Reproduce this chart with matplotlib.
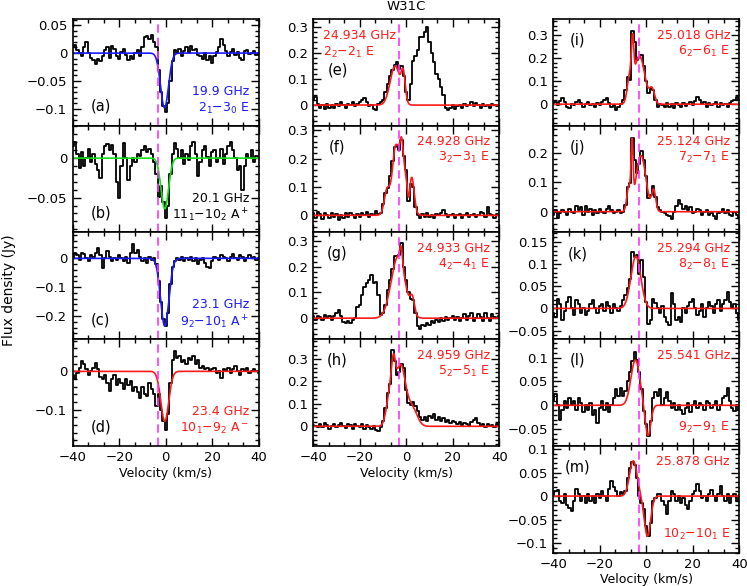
import numpy as np
import matplotlib.pyplot as plt
from matplotlib.ticker import MultipleLocator, FuncFormatter

# channel centres (km/s)
velocity = np.arange(-40, 41)
v_lsr = -3.2  # dashed magenta line

# spectra, one value per channel from -40 to +40 km/s (Jy)
flux_a = [0.010, 0.015, 0.005, 0.000, -0.005, 0.010, 0.020, 0.000, -0.008, -0.012,
          -0.020, -0.010, -0.015, -0.005, 0.005, 0.010, -0.008, 0.012, 0.008, -0.005,
          -0.010, 0.002, 0.008, -0.003, -0.012, -0.005, -0.010, 0.000, 0.005, -0.005,
          0.010, 0.028, 0.030, 0.025, 0.032, 0.020, 0.010, -0.030, -0.070, -0.095,
          -0.105, -0.090, -0.050, -0.015, 0.005, 0.000, 0.008, -0.005, 0.003, 0.010,
          0.000, 0.012, 0.005, 0.008, -0.003, -0.005, -0.010, 0.000, -0.012, -0.005,
          -0.018, -0.005, 0.002, 0.010, 0.025, 0.015, 0.003, -0.005, 0.002, 0.008,
          -0.004, 0.002, -0.008, -0.012, 0.003, 0.005, -0.002, 0.000, 0.004, -0.003,
          0.000]
flux_b = [0.015, 0.020, 0.005, -0.012, 0.008, -0.010, 0.000, 0.012, -0.005, 0.005,
          -0.008, -0.015, -0.025, 0.005, 0.015, 0.018, 0.010, 0.017, 0.005, -0.030,
          -0.051, -0.010, 0.019, 0.000, -0.028, -0.010, 0.000, -0.005, 0.005, 0.003,
          0.010, 0.015, 0.008, 0.012, 0.005, -0.005, -0.020, -0.049, -0.035, -0.055,
          -0.076, -0.060, -0.020, 0.005, 0.019, 0.012, 0.000, 0.010, -0.008, 0.005,
          -0.003, 0.015, 0.021, 0.005, -0.023, -0.005, 0.010, 0.015, 0.002, -0.010,
          0.008, 0.010, -0.005, 0.000, 0.012, -0.008, 0.005, 0.015, 0.020, 0.010,
          0.000, -0.015, -0.010, -0.040, -0.010, 0.005, 0.000, 0.010, -0.005, 0.003,
          0.000]
flux_c = [0.000, 0.020, 0.010, -0.005, 0.020, 0.015, 0.000, -0.010, 0.010, 0.005,
          0.020, 0.035, 0.010, -0.035, 0.000, 0.025, 0.005, -0.010, 0.000, -0.005,
          0.010, 0.000, -0.010, 0.005, -0.015, 0.020, 0.050, 0.020, 0.030, 0.005,
          -0.010, 0.000, -0.015, 0.005, -0.005, 0.000, -0.020, -0.080, -0.150, -0.210,
          -0.235, -0.190, -0.090, -0.030, -0.010, 0.000, -0.005, 0.005, -0.010, 0.000,
          -0.005, 0.005, -0.010, 0.000, -0.020, -0.005, 0.000, -0.015, -0.030, -0.035,
          -0.010, 0.005, 0.000, -0.005, 0.010, 0.005, 0.000, -0.010, 0.005, 0.015,
          0.000, -0.005, 0.010, 0.005, -0.010, 0.000, 0.010, 0.000, 0.005, -0.005,
          0.000]
flux_d = [-0.010, -0.020, -0.005, 0.010, 0.026, 0.020, 0.005, -0.010, 0.000, 0.010,
          0.022, 0.005, -0.015, -0.020, -0.010, -0.030, -0.052, -0.020, -0.010, -0.035,
          -0.020, -0.030, -0.045, -0.020, -0.035, -0.025, -0.050, -0.040, -0.055, -0.070,
          -0.040, -0.060, -0.065, -0.030, -0.045, -0.060, -0.090, -0.060, -0.100, -0.130,
          -0.152, -0.110, -0.030, 0.030, 0.052, 0.035, 0.040, 0.025, 0.030, 0.020,
          0.035, 0.030, 0.040, 0.020, 0.030, 0.010, 0.015, 0.005, 0.010, 0.000,
          0.005, 0.010, -0.005, 0.000, -0.017, 0.005, 0.000, 0.010, -0.005, 0.005,
          0.015, 0.000, -0.010, 0.005, 0.000, 0.010, -0.005, 0.000, 0.005, 0.000,
          -0.005]
flux_e = [0.020, 0.030, 0.005, -0.010, 0.000, -0.015, 0.005, -0.010, 0.000, -0.012,
          0.005, -0.005, 0.010, 0.000, -0.010, 0.005, 0.000, 0.010, -0.005, 0.005,
          0.012, 0.020, 0.028, 0.010, -0.005, 0.000, -0.015, -0.020, 0.005, 0.010,
          0.020, 0.050, 0.080, 0.110, 0.135, 0.155, 0.167, 0.140, 0.148, 0.110,
          0.050, 0.020, 0.080, 0.170, 0.190, 0.210, 0.260, 0.260, 0.280, 0.300,
          0.240, 0.200, 0.165, 0.120, 0.100, 0.070, 0.040, -0.012, -0.020, -0.010,
          0.000, -0.015, -0.005, 0.000, -0.010, 0.005, -0.005, 0.000, 0.010, -0.005,
          0.008, 0.000, -0.010, 0.005, -0.005, 0.000, -0.010, 0.005, 0.000, -0.005,
          0.000]
flux_f = [0.010, -0.010, 0.012, 0.005, -0.012, 0.010, 0.000, -0.010, 0.008, -0.005,
          0.005, -0.015, 0.000, -0.010, 0.008, -0.005, 0.010, 0.000, -0.010, 0.005,
          -0.005, 0.010, 0.000, 0.012, -0.005, 0.005, 0.000, 0.015, 0.005, 0.010,
          0.040, 0.080, 0.095, 0.140, 0.190, 0.240, 0.245, 0.230, 0.265, 0.210,
          0.160, 0.050, 0.110, 0.100, 0.030, 0.000, -0.010, 0.005, -0.005, 0.010,
          -0.005, 0.000, -0.010, 0.005, 0.000, 0.010, 0.018, 0.005, -0.005, 0.000,
          0.005, -0.010, 0.000, 0.005, -0.008, 0.000, 0.010, -0.005, 0.000, 0.005,
          -0.005, 0.000, 0.012, 0.008, -0.005, 0.030, 0.005, 0.000, -0.010, 0.005,
          0.000]
flux_g = [0.010, -0.005, 0.010, 0.005, -0.005, 0.012, 0.000, 0.008, -0.005, 0.010,
          0.020, 0.030, 0.010, -0.015, -0.020, -0.010, -0.018, -0.005, 0.000, 0.045,
          0.050, 0.090, 0.120, 0.135, 0.150, 0.168, 0.135, 0.140, 0.090, 0.013,
          0.020, 0.050, 0.110, 0.150, 0.190, 0.240, 0.240, 0.245, 0.290, 0.200,
          0.150, 0.100, 0.075, 0.070, 0.020, -0.030, -0.040, -0.025, -0.030, -0.020,
          -0.025, -0.010, -0.020, -0.005, -0.015, 0.000, -0.010, 0.005, -0.008, 0.000,
          0.010, -0.005, 0.005, -0.010, 0.000, 0.015, -0.005, 0.010, 0.020, -0.010,
          0.000, 0.015, 0.005, -0.010, 0.020, 0.000, -0.010, 0.015, 0.005, 0.000,
          0.010]
flux_h = [0.005, 0.000, -0.005, 0.010, -0.005, 0.015, 0.005, -0.010, 0.000, 0.010,
          -0.005, 0.005, 0.015, 0.000, -0.008, 0.010, 0.005, -0.010, 0.012, 0.000,
          -0.005, 0.010, -0.010, 0.005, -0.005, -0.010, 0.000, -0.015, -0.020, -0.005,
          0.022, 0.080, 0.150, 0.190, 0.340, 0.290, 0.230, 0.240, 0.280, 0.260,
          0.164, 0.104, 0.097, 0.110, 0.090, 0.067, 0.040, 0.030, 0.040, 0.025,
          0.045, 0.035, 0.055, 0.030, 0.040, 0.025, 0.035, 0.020, 0.030, 0.015,
          0.025, 0.020, 0.010, 0.020, 0.005, 0.015, 0.010, 0.000, 0.020, 0.030,
          0.037, 0.015, 0.000, 0.010, -0.005, 0.010, 0.000, 0.005, -0.005, 0.010,
          0.000]
flux_i = [0.000, 0.010, -0.005, 0.015, 0.026, 0.010, -0.010, -0.015, 0.000, -0.005,
          0.010, 0.020, 0.005, -0.010, 0.000, 0.008, -0.005, 0.000, -0.010, 0.005,
          -0.005, 0.010, 0.020, 0.026, 0.005, -0.010, -0.005, -0.025, -0.010, 0.000,
          0.020, 0.060, 0.120, 0.106, 0.316, 0.270, 0.190, 0.200, 0.215, 0.164,
          0.100, 0.048, 0.070, 0.060, 0.020, -0.010, 0.000, -0.005, -0.012, 0.005,
          -0.010, 0.000, -0.015, 0.005, -0.005, -0.010, 0.005, -0.008, 0.000, 0.010,
          -0.005, 0.015, 0.033, 0.020, 0.000, 0.010, -0.010, 0.005, -0.005, 0.000,
          0.010, -0.012, 0.005, -0.005, 0.000, -0.010, 0.005, 0.015, 0.020, 0.033,
          0.020]
flux_j = [-0.010, 0.005, -0.020, -0.005, 0.005, 0.000, -0.010, 0.010, 0.000, -0.005,
          0.020, 0.005, 0.015, -0.010, 0.020, 0.000, 0.010, -0.010, 0.005, -0.005,
          0.010, 0.000, -0.005, 0.010, 0.020, 0.005, -0.005, 0.000, 0.005, -0.005,
          0.000, 0.023, 0.085, 0.097, 0.250, 0.176, 0.130, 0.160, 0.205, 0.176,
          0.120, 0.045, 0.057, 0.088, 0.050, 0.017, 0.005, 0.000, -0.005, -0.010,
          -0.015, -0.023, 0.000, 0.020, 0.040, 0.025, 0.010, 0.020, 0.005, 0.015,
          -0.005, 0.000, 0.010, 0.005, -0.010, 0.000, 0.005, -0.010, -0.005, -0.015,
          -0.023, -0.005, 0.000, 0.010, -0.005, 0.005, -0.010, -0.015, 0.000, -0.010,
          -0.020]
flux_k = [-0.010, -0.020, 0.022, 0.010, -0.026, -0.005, 0.015, 0.026, 0.000, -0.015,
          0.020, 0.010, -0.010, 0.000, -0.015, -0.005, 0.010, 0.019, 0.000, -0.010,
          0.005, 0.010, -0.005, 0.015, 0.005, -0.010, 0.010, 0.000, -0.005, 0.005,
          0.019, 0.030, 0.045, 0.067, 0.127, 0.116, 0.120, 0.078, 0.108, 0.070,
          0.015, -0.034, -0.026, 0.022, 0.012, 0.000, -0.010, 0.005, -0.020, -0.030,
          -0.037, 0.034, 0.010, -0.026, -0.020, -0.030, 0.000, -0.010, 0.005, 0.015,
          0.022, 0.000, -0.015, -0.005, 0.010, -0.020, 0.000, 0.015, 0.005, -0.010,
          0.010, 0.020, -0.005, 0.010, 0.020, 0.037, 0.015, 0.000, 0.010, -0.010,
          -0.026]
flux_l = [0.010, 0.023, 0.000, -0.030, -0.010, 0.010, -0.005, 0.015, 0.000, 0.010,
          -0.010, 0.016, 0.005, -0.015, 0.000, -0.010, 0.005, -0.020, -0.010, -0.037,
          -0.005, 0.010, -0.010, 0.005, -0.015, 0.000, 0.015, 0.034, 0.020, 0.037,
          0.020, 0.030, 0.050, 0.070, 0.094, 0.111, 0.095, 0.070, 0.034, -0.012,
          -0.040, -0.065, -0.033, 0.016, 0.027, 0.020, 0.034, 0.000, 0.015, 0.027,
          0.010, -0.005, 0.005, -0.010, 0.000, -0.010, -0.019, -0.005, 0.005, -0.015,
          0.000, 0.010, -0.005, 0.005, 0.000, -0.010, 0.010, 0.005, -0.005, 0.000,
          0.010, -0.010, 0.000, 0.015, 0.020, 0.037, 0.010, -0.005, -0.012, 0.000,
          -0.010]
flux_m = [0.000, 0.010, 0.014, -0.010, -0.015, 0.005, -0.020, -0.025, -0.032, -0.010,
          0.015, 0.005, -0.010, 0.000, -0.015, 0.005, -0.010, 0.000, -0.015, 0.005,
          -0.005, 0.010, 0.000, -0.010, 0.015, 0.032, 0.020, 0.010, 0.000, 0.008,
          0.005, 0.010, 0.039, 0.060, 0.072, 0.066, 0.039, 0.000, -0.014, -0.028,
          -0.064, -0.085, -0.057, -0.010, -0.004, 0.005, 0.005, -0.010, -0.020, -0.039,
          -0.010, 0.010, 0.005, -0.010, 0.000, -0.015, -0.005, -0.020, -0.028, -0.010,
          0.005, 0.010, 0.025, 0.010, -0.005, 0.000, -0.010, 0.005, 0.014, 0.000,
          -0.010, 0.005, 0.021, 0.000, -0.010, 0.005, -0.015, 0.000, 0.005, -0.010,
          0.000]

# gaussian fit components: (peak Jy, centre km/s, fwhm km/s)
fit_a = [(-0.098, -0.5, 4.0)]
fit_b = [(-0.064, -0.4, 3.8)]
fit_c = [(-0.235, -0.4, 4.2)]
fit_d = [(-0.130, -0.4, 4.0)]
fit_e = [(0.15, -4.8, 5.0), (0.10, -1.3, 2.0)]
fit_f = [(0.24, -3.0, 6.5), (0.05, -5.0, 2.0), (0.05, -2.0, 1.2),
         (-0.05, 1.0, 1.2), (0.10, 2.5, 2.3), (0.06, -8.5, 2.5)]
fit_g = [(0.24, -3.5, 7.0), (0.06, -2.2, 1.3), (0.06, 2.6, 2.2)]
fit_h = [(0.14, -5.5, 2.0), (0.27, -2.5, 5.0), (0.14, -7.0, 3.5), (0.08, 2.5, 5.0)]
fit_i = [(0.18, -5.9, 1.2), (0.21, -3.0, 5.5), (0.09, -7.3, 2.2), (0.06, 2.5, 2.5)]
fit_j = [(0.19, -6.1, 1.0), (0.19, -2.3, 5.0), (0.08, -7.5, 2.0), (0.07, 3.2, 2.0)]
fit_k = [(0.117, -4.5, 5.0)]
fit_l = [(0.095, -4.7, 4.5), (-0.065, 0.7, 2.8)]
fit_m = [(0.075, -5.6, 3.8), (-0.085, 0.5, 3.2)]

freqs = ['19.9 GHz', '20.1 GHz', '23.1 GHz', '23.4 GHz',
         '24.934 GHz', '24.928 GHz', '24.933 GHz', '24.959 GHz',
         '25.018 GHz', '25.124 GHz', '25.294 GHz', '25.541 GHz', '25.878 GHz']
transitions = ['$2_1$−$3_0$ E', '$11_1$−$10_2$ A$^+$', '$9_2$−$10_1$ A$^+$',
               '$10_1$−$9_2$ A$^-$',
               '$2_2$−$2_1$ E', '$3_2$−$3_1$ E', '$4_2$−$4_1$ E', '$5_2$−$5_1$ E',
               '$6_2$−$6_1$ E', '$7_2$−$7_1$ E', '$8_2$−$8_1$ E', '$9_2$−$9_1$ E',
               '$10_2$−$10_1$ E']

RED, BLUE, GREEN = '#ff1a1a', '#1a1aff', '#11e011'

# flux, fit, colour, column, row, ylim, major y step, text layout
panels = [
    (flux_a, fit_a, BLUE, 0, 0, (-0.130, 0.061), 0.05, 'low'),
    (flux_b, fit_b, GREEN, 0, 1, (-0.094, 0.041), 0.05, 'low'),
    (flux_c, fit_c, BLUE, 0, 2, (-0.280, 0.090), 0.1, 'low'),
    (flux_d, fit_d, RED, 0, 3, (-0.194, 0.084), 0.1, 'low'),
    (flux_e, fit_e, RED, 1, 0, (-0.079, 0.330), 0.1, 'left'),
    (flux_f, fit_f, RED, 1, 1, (-0.060, 0.316), 0.1, 'top'),
    (flux_g, fit_g, RED, 1, 2, (-0.081, 0.333), 0.1, 'top'),
    (flux_h, fit_h, RED, 1, 3, (-0.087, 0.389), 0.1, 'top'),
    (flux_i, fit_i, RED, 2, 0, (-0.093, 0.369), 0.1, 'top'),
    (flux_j, fit_j, RED, 2, 1, (-0.070, 0.291), 0.1, 'top'),
    (flux_k, fit_k, RED, 2, 2, (-0.069, 0.171), 0.05, 'top'),
    (flux_l, fit_l, RED, 2, 3, (-0.085, 0.139), 0.05, 'split'),
    (flux_m, fit_m, RED, 2, 4, (-0.120, 0.107), 0.05, 'split'),
]
text_colours = [BLUE, 'black', BLUE] + [RED] * 10
letters = 'abcdefghijklm'


def gauss_sum(v, comps):
    out = np.zeros_like(v)
    for amp, cen, fwhm in comps:
        out += amp * np.exp(-4 * np.log(2) * ((v - cen) / fwhm) ** 2)
    return out


def fmt(y, pos):
    y = round(y, 3) + 0.0
    return ('%g' % y).replace('-', '\u2212')


W, H = 747, 586
col_left = [72.7, 313.3, 553.3]
ax_w, ax_h, top = 186, 106.7, 19
bottom_rows = {0: 3, 1: 3, 2: 4}
fs_note, fs_letter = 9, 10.5

fig = plt.figure(figsize=(W / 100, H / 100), dpi=100)
v_fine = np.linspace(-40, 40, 801)

for n, (flux, fit, colour, col, row, ylim, ystep, layout) in enumerate(panels):
    ax = fig.add_axes([col_left[col] / W, 1 - (top + (row + 1) * ax_h) / H,
                       ax_w / W, ax_h / H])
    ax.step(velocity, flux, where='mid', color='black', lw=1.3)
    ax.plot(v_fine, gauss_sum(v_fine, fit), color=colour, lw=1.2)
    ax.axvline(v_lsr, color='#ff33ff', lw=1.2, dashes=(5, 3))
    ax.set_xlim(-40, 40)
    ax.set_ylim(*ylim)
    ax.xaxis.set_major_locator(MultipleLocator(20))
    ax.xaxis.set_minor_locator(MultipleLocator(20 / 3))
    ax.yaxis.set_major_locator(MultipleLocator(ystep))
    ax.yaxis.set_minor_locator(MultipleLocator(ystep / 5))
    ax.yaxis.set_major_formatter(FuncFormatter(fmt))
    ax.xaxis.set_major_formatter(FuncFormatter(fmt))
    ax.tick_params(which='both', direction='in', top=True, right=True,
                   width=1.0, labelsize=9.5, pad=4)
    ax.tick_params(which='major', length=6)
    ax.tick_params(which='minor', length=3)
    for s in ax.spines.values():
        s.set_linewidth(1.2)
    if row != bottom_rows[col]:
        ax.tick_params(labelbottom=False)

    tc = text_colours[n]
    letter = '(%s)' % letters[n]
    if layout == 'low':
        ax.text(0.15, 0.18, letter, transform=ax.transAxes, fontsize=fs_letter,
                ha='center', va='center')
        ax.text(0.95, 0.32, freqs[n], transform=ax.transAxes, fontsize=fs_note,
                ha='right', va='center', color=tc)
        ax.text(0.95, 0.16, transitions[n], transform=ax.transAxes,
                fontsize=fs_note, ha='right', va='center', color=tc)
    elif layout == 'left':
        ax.text(0.054, 0.85, freqs[n], transform=ax.transAxes, fontsize=fs_note,
                ha='left', va='center', color=tc)
        ax.text(0.054, 0.69, transitions[n], transform=ax.transAxes,
                fontsize=fs_note, ha='left', va='center', color=tc)
        ax.text(0.134, 0.52, letter, transform=ax.transAxes, fontsize=fs_letter,
                ha='center', va='center')
    else:
        ax.text(0.13, 0.80, letter, transform=ax.transAxes, fontsize=fs_letter,
                ha='center', va='center')
        ax.text(0.95, 0.85, freqs[n], transform=ax.transAxes, fontsize=fs_note,
                ha='right', va='center', color=tc)
        ty = 0.17 if layout == 'split' else 0.70
        ax.text(0.95, ty, transitions[n], transform=ax.transAxes,
                fontsize=fs_note, ha='right', va='center', color=tc)

# axis labels and title
for col, y_px in [(0, 474), (1, 474), (2, 579)]:
    fig.text((col_left[col] + ax_w / 2) / W, 1 - y_px / H, 'Velocity (km/s)',
             ha='center', va='center', fontsize=9)
fig.text(9 / W, 1 - 290 / H, 'Flux density (Jy)', rotation=90,
         ha='center', va='center', fontsize=10)
fig.text(406 / W, 1 - 7 / H, 'W31C', ha='center', va='center', fontsize=9.5)

fig.savefig('out.png', dpi=100)
